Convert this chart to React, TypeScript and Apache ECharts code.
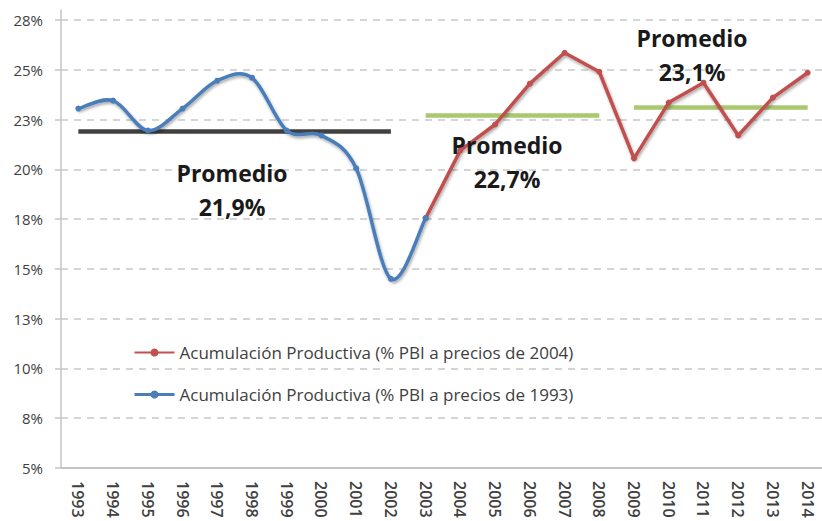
import React, { useEffect, useRef } from "react";
import * as echarts from "echarts";

const years = [
  "1993", "1994", "1995", "1996", "1997", "1998", "1999", "2000", "2001", "2002", "2003",
  "2004", "2005", "2006", "2007", "2008", "2009", "2010", "2011", "2012", "2013", "2014",
];

const serie1993: (number | null)[] = [
  23.05, 23.45, 21.95, 23.05, 24.45, 24.6, 21.95, 21.7, 20.05, 14.5, 17.55,
  null, null, null, null, null, null, null, null, null, null, null,
];

const serie2004: (number | null)[] = [
  null, null, null, null, null, null, null, null, null, null, 17.55,
  20.95, 22.25, 24.3, 25.85, 24.9, 20.55, 23.35, 24.35, 21.7, 23.6, 24.85,
];

const avgValues = [21.9, 22.7, 23.1];
const avgLabels = ["21,9%", "22,7%", "23,1%"];
const avgSpans: [string, string][] = [
  ["1993", "2002"],
  ["2003", "2008"],
  ["2009", "2014"],
];
const avgColors = ["#404040", "#a9c96f", "#a9c96f"];

const yTickValues = [5, 7.5, 10, 12.5, 15, 17.5, 20, 22.5, 25, 27.5];
const yTickLabels = ["5%", "8%", "10%", "13%", "15%", "18%", "20%", "23%", "25%", "28%"];

const name2004 = "Acumulación Productiva (% PBI a precios de 2004)";
const name1993 = "Acumulación Productiva (% PBI a precios de 1993)";

const BLUE = "#4a7ebb";
const RED = "#c0504d";

export default function App() {
  const ref = useRef<HTMLDivElement>(null);

  useEffect(() => {
    if (!ref.current) return;
    const chart = echarts.init(ref.current, null, { renderer: "svg" });

    const shadow = {
      shadowBlur: 3,
      shadowColor: "rgba(0,0,0,0.35)",
      shadowOffsetX: 1,
      shadowOffsetY: 2,
    };

    const avgSeries = avgValues.map((v, i) => ({
      type: "line",
      name: "avg" + i,
      data: [
        [avgSpans[i][0], v],
        [avgSpans[i][1], v],
      ],
      symbol: "none",
      lineStyle: { color: avgColors[i], width: 4.5 },
      z: 1,
      silent: true,
    }));

    const labelPos = [
      { x: 232, y: 156 },
      { x: 507, y: 128 },
      { x: 692, y: 21 },
    ];

    // Excel-like (Catmull-Rom) smoothed curve for the 1993-based series
    const renderSmooth = (_params: any, api: any) => {
      const pts: number[][] = [];
      serie1993.forEach((v, i) => {
        if (v != null) pts.push(api.coord([i, v]));
      });
      if (pts.length < 2) return null;
      let d = `M${pts[0][0]},${pts[0][1]}`;
      for (let i = 0; i < pts.length - 1; i++) {
        const p0 = pts[i - 1] || pts[i];
        const p1 = pts[i];
        const p2 = pts[i + 1];
        const p3 = pts[i + 2] || pts[i + 1];
        const c1x = p1[0] + (p2[0] - p0[0]) / 6;
        const c1y = p1[1] + (p2[1] - p0[1]) / 6;
        const c2x = p2[0] - (p3[0] - p1[0]) / 6;
        const c2y = p2[1] - (p3[1] - p1[1]) / 6;
        d += ` C${c1x},${c1y} ${c2x},${c2y} ${p2[0]},${p2[1]}`;
      }
      return {
        type: "path",
        shape: { pathData: d },
        style: {
          fill: "none",
          stroke: BLUE,
          lineWidth: 3.5,
          lineCap: "round",
          lineJoin: "round",
          ...shadow,
        },
      };
    };

    chart.setOption({
      animation: false,
      backgroundColor: "#ffffff",
      grid: {
        left: 61,
        top: 10,
        width: 764,
        height: 458,
        containLabel: false,
        outerBoundsMode: "none",
      },
      legend: {
        data: [
          { name: name2004 },
          { name: name1993, lineStyle: { color: BLUE, width: 3, opacity: 1 } },
        ],
        orient: "vertical",
        left: 133,
        top: 344,
        padding: 0,
        itemWidth: 40,
        itemHeight: 10,
        itemGap: 25,
        textStyle: { fontFamily: "Open Sans", fontSize: 17, lineHeight: 16, color: "#404040" },
      },
      xAxis: {
        type: "category",
        data: years,
        boundaryGap: true,
        axisLine: { lineStyle: { color: "#c4c4c4", width: 2 } },
        axisTick: { show: false },
        axisLabel: {
          rotate: -90,
          interval: 0,
          margin: 13,
          fontFamily: "Open Sans",
          fontSize: 16,
          fontWeight: 600,
          color: "#404040",
        },
        splitLine: { show: false },
      },
      yAxis: {
        type: "value",
        min: 5,
        max: 28,
        interval: 2.5,
        axisLine: { show: true, lineStyle: { color: "#c4c4c4", width: 1.5 } },
        axisTick: { show: true, length: 6, lineStyle: { color: "#c4c4c4", width: 1.5 } },
        axisLabel: {
          margin: 18,
          fontFamily: "Open Sans",
          fontSize: 15,
          color: "#404040",
          showMaxLabel: false,
          formatter: (v: number) => {
            const idx = yTickValues.findIndex((t) => Math.abs(t - v) < 1e-6);
            return idx >= 0 ? yTickLabels[idx] : "";
          },
        },
        splitLine: {
          show: true,
          showMaxLine: false,
          lineStyle: { color: "#c8c8c8", width: 1.5, type: [7, 6] },
        },
      },
      series: [
        ...avgSeries,
        {
          type: "custom",
          name: "curva1993",
          data: [[0, 20]],
          renderItem: renderSmooth,
          silent: true,
          z: 3,
        },
        {
          type: "line",
          name: name1993,
          data: serie1993,
          symbol: "circle",
          symbolSize: 6,
          itemStyle: { color: BLUE },
          lineStyle: { color: BLUE, width: 3, opacity: 0 },
          z: 5,
        },
        {
          type: "line",
          name: name2004,
          data: serie2004,
          symbol: "circle",
          symbolSize: 6,
          itemStyle: { color: RED },
          lineStyle: { color: RED, width: 3.5, ...shadow },
          z: 4,
        },
      ],
      graphic: avgLabels.map((lab, i) => ({
        type: "text",
        x: labelPos[i].x,
        y: labelPos[i].y,
        z: 10,
        style: {
          text: "Promedio\n" + lab,
          font: 'bold 23px "Open Sans"',
          fill: "#1a1a1a",
          textAlign: "center",
          textVerticalAlign: "top",
          lineHeight: 34,
        },
      })),
    });

    return () => chart.dispose();
  }, []);

  return (
    <div
      ref={ref}
      style={{ position: "fixed", left: 0, top: 0, width: 822, height: 521, background: "#fff" }}
    />
  );
}
